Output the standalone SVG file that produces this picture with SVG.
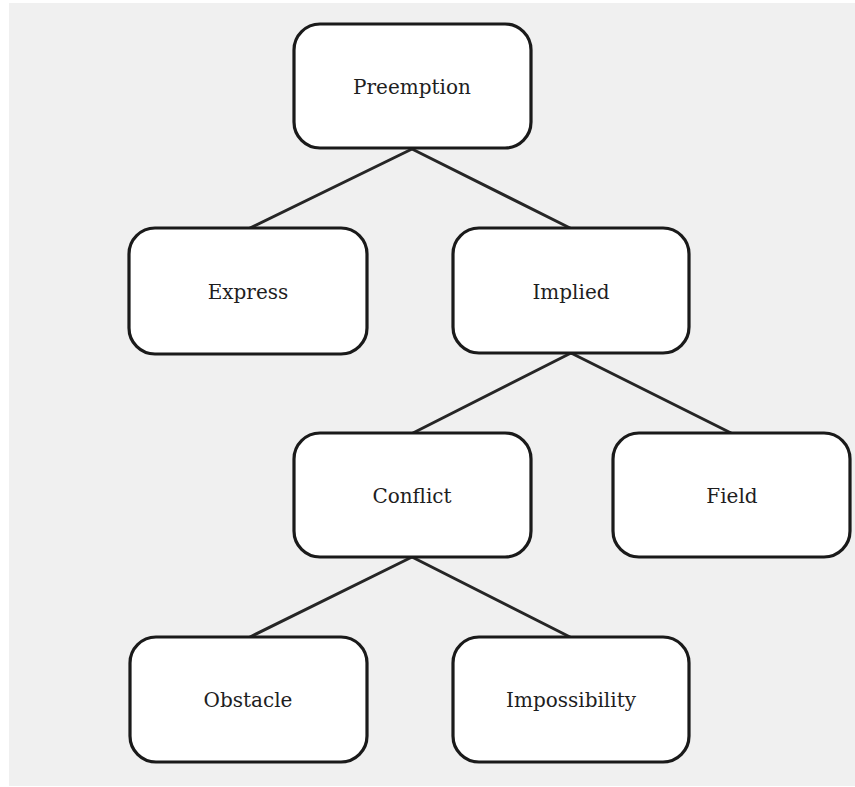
<svg xmlns="http://www.w3.org/2000/svg" width="855" height="787" viewBox="0 0 855 787">
<style>
.node rect{fill:#ffffff;stroke:#1a1a1a;stroke-width:3.2}
.node text{font-family:"DejaVu Serif","Liberation Serif",serif;font-size:20px;fill:#1e1e1e;text-anchor:middle}
.edges line{stroke:#262626;stroke-width:3;stroke-linecap:round}
</style>
<rect x="0" y="0" width="855" height="787" fill="#ffffff"/>
<rect x="9" y="3" width="846" height="783" fill="#f0f0f0"/>
<g class="edges" id="connectors">
<line x1="412" y1="149" x2="250" y2="228"/>
<line x1="412" y1="149" x2="570" y2="228"/>
<line x1="571" y1="353" x2="413" y2="433"/>
<line x1="571" y1="353" x2="731" y2="433"/>
<line x1="412" y1="557" x2="250" y2="637"/>
<line x1="412" y1="557" x2="570" y2="637"/>
</g>
<g class="node" id="preemption"><rect x="294" y="24" width="237" height="124" rx="26"/><text x="412" y="94">Preemption</text></g>
<g class="node" id="express"><rect x="129" y="228" width="238" height="126" rx="26"/><text x="248" y="299">Express</text></g>
<g class="node" id="implied"><rect x="453" y="228" width="236" height="125" rx="26"/><text x="571" y="299">Implied</text></g>
<g class="node" id="conflict"><rect x="294" y="433" width="237" height="124" rx="26"/><text x="412" y="503">Conflict</text></g>
<g class="node" id="field"><rect x="613" y="433" width="237" height="124" rx="26"/><text x="732" y="503">Field</text></g>
<g class="node" id="obstacle"><rect x="130" y="637" width="237" height="125" rx="26"/><text x="248" y="707">Obstacle</text></g>
<g class="node" id="impossibility"><rect x="453" y="637" width="236" height="125" rx="26"/><text x="571" y="707">Impossibility</text></g>
</svg>
